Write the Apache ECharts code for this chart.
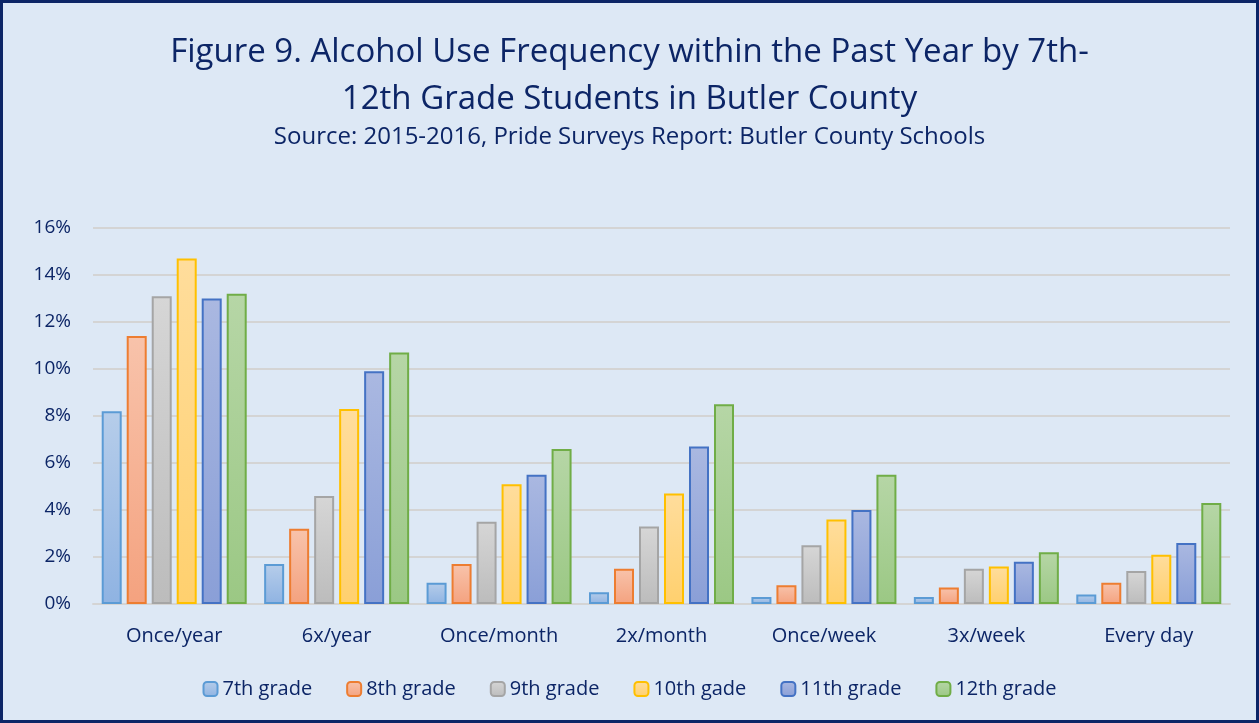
<!DOCTYPE html>
<html>
<head>
<meta charset="utf-8">
<script src="https://cdn.jsdelivr.net/npm/echarts@6/dist/echarts.min.js"></script>
<style>
  html, body { margin: 0; padding: 0; background: #fff; }
  #chart {
    width: 1259px;
    height: 723px;
    box-sizing: border-box;
    border: 3px solid #0c2566;
    background: #dde8f5;
  }
</style>
</head>
<body>
<div id="chart"></div>
<script>
// categories and series values (percent)
const categories = ['Once/year', '6x/year', 'Once/month', '2x/month', 'Once/week', '3x/week', 'Every day']
const grade7 = [8.2, 1.7, 0.9, 0.5, 0.3, 0.3, 0.4]
const grade8 = [11.4, 3.2, 1.7, 1.5, 0.8, 0.7, 0.9]
const grade9 = [13.1, 4.6, 3.5, 3.3, 2.5, 1.5, 1.4]
const grade10 = [14.7, 8.3, 5.1, 4.7, 3.6, 1.6, 2.1]
const grade11 = [13.0, 9.9, 5.5, 6.7, 4.0, 1.8, 2.6]
const grade12 = [13.2, 10.7, 6.6, 8.5, 5.5, 2.2, 4.3]
const seriesNames = ['7th grade', '8th grade', '9th grade', '10th gade', '11th grade', '12th grade']

// [top, bottom, border]
const palette = [
  ['#b6cdea', '#8fb3e2', '#5b9bd5'],
  ['#f8c3ab', '#f4a27f', '#ed7d31'],
  ['#d6d6d6', '#bcbcbc', '#a5a5a5'],
  ['#ffdd9c', '#ffd06e', '#ffc000'],
  ['#aab8e1', '#8a9fd7', '#4472c4'],
  ['#b6d6a6', '#9bc884', '#70ad47']
]

const chart = echarts.init(document.getElementById('chart'))
const textColor = '#0c2566'
const font = '"Open Sans", "Noto Sans", sans-serif'

const allData = [grade7, grade8, grade9, grade10, grade11, grade12]

const series = allData.map((d, i) => ({
  name: seriesNames[i],
  type: 'bar',
  data: d,
  barWidth: 20,
  barGap: '25%',
  itemStyle: {
    color: new echarts.graphic.LinearGradient(0, 0, 0, 1, [
      { offset: 0, color: palette[i][0] },
      { offset: 1, color: palette[i][1] }
    ]),
    borderColor: palette[i][2],
    borderWidth: 2
  }
}))

const option = {
  animation: false,
  textStyle: { fontFamily: font },
  title: [
    {
      text: 'Figure 9. Alcohol Use Frequency within the Past Year by 7th-\n12th Grade Students in Butler County',
      left: 'center',
      top: 21,
      textStyle: { color: textColor, fontSize: 33, fontWeight: 'normal', lineHeight: 47, fontFamily: font }
    },
    {
      text: 'Source: 2015-2016, Pride Surveys Report: Butler County Schools',
      left: 'center',
      top: 117,
      textStyle: { color: textColor, fontSize: 24, fontWeight: 'normal', fontFamily: font }
    }
  ],
  legend: {
    bottom: 16,
    left: 'center',
    itemWidth: 14,
    itemHeight: 14,
    itemGap: 34,
    textStyle: { color: textColor, fontSize: 20, fontFamily: font }
  },
  grid: {
    left: 90,
    right: 26,
    top: 225,
    bottom: 116
  },
  xAxis: {
    type: 'category',
    data: categories,
    axisLine: { lineStyle: { color: '#d4d4d4', width: 2 } },
    axisTick: { show: false },
    axisLabel: { color: textColor, fontSize: 20, margin: 22 }
  },
  yAxis: {
    type: 'value',
    min: 0,
    max: 16,
    interval: 2,
    axisLine: { show: false },
    axisTick: { show: false },
    splitLine: { lineStyle: { color: '#d4d4d4', width: 2 } },
    axisLabel: { color: textColor, fontSize: 19, margin: 22, formatter: '{value}%' }
  },
  series: series
}

chart.setOption(option)
</script>
</body>
</html>
